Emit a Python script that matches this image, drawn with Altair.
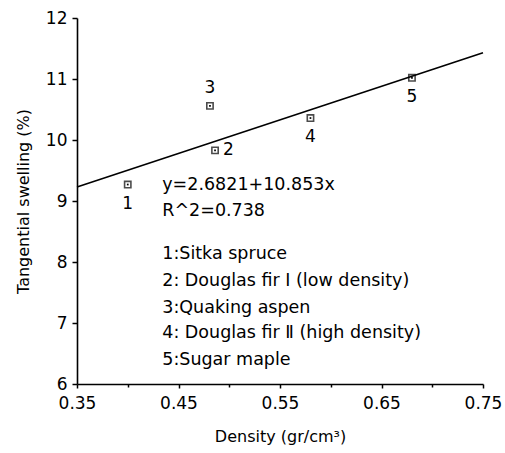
import altair as alt
import pandas as pd

# Data
ids = ["1", "2", "3", "4", "5"]
density = [0.400, 0.486, 0.481, 0.580, 0.680]
swelling = [9.27, 9.83, 10.56, 10.36, 11.02]
label_pos = ["below", "right", "above", "below", "below"]

line_x = [0.35, 0.75]
line_y = [9.23, 11.43]

notes = [
    "y=2.6821+10.853x",
    "R^2=0.738",
    "1:Sitka spruce",
    "2: Douglas fir Ⅰ (low density)",
    "3:Quaking aspen",
    "4: Douglas fir Ⅱ (high density)",
    "5:Sugar maple",
]
notes_x = [0.434] * 7
notes_y = [9.26, 8.83, 8.13, 7.69, 7.25, 6.84, 6.39]

FONT = "DejaVu Sans"
pts = pd.DataFrame({"id": ids, "x": density, "y": swelling, "pos": label_pos})
line_df = pd.DataFrame({"x": line_x, "y": line_y})
notes_df = pd.DataFrame({"t": notes, "x": notes_x, "y": notes_y})

xscale = alt.Scale(domain=[0.35, 0.75], nice=False, zero=False)
yscale = alt.Scale(domain=[6, 12], nice=False, zero=False)

x_vals = [0.35, 0.40, 0.45, 0.50, 0.55, 0.60, 0.65, 0.70, 0.75]
y_vals = [6, 6.5, 7, 7.5, 8, 8.5, 9, 9.5, 10, 10.5, 11, 11.5, 12]

xaxis = alt.Axis(
    values=x_vals,
    labelExpr="round(datum.value*100) % 10 == 5 ? format(datum.value, '.2f') : ''",
    title="Density (gr/cm³)",
    grid=False,
    domainColor="black", domainWidth=1.6,
    tickColor="black", tickWidth=1.5,
    tickSize={"condition": {"test": "round(datum.value*100) % 10 == 5", "value": 4}, "value": 3},
    labelFont=FONT, labelFontSize=17, labelColor="black", labelPadding=7,
    labelFlush=False,
    titleFont=FONT, titleFontSize=16, titleFontWeight="normal", titleColor="black",
    titlePadding=17,
)
yaxis = alt.Axis(
    values=y_vals,
    labelExpr="datum.value % 1 == 0 ? format(datum.value, 'd') : ''",
    title="Tangential swelling (%)",
    grid=False,
    domainColor="black", domainWidth=1.6,
    tickColor="black", tickWidth=1.5,
    tickSize={"condition": {"test": "datum.value % 1 == 0", "value": 5}, "value": 2},
    labelFont=FONT, labelFontSize=17, labelColor="black", labelPadding=5,
    labelFlush=False,
    titleFont=FONT, titleFontSize=16, titleFontWeight="normal", titleColor="black",
    titlePadding=14,
)

line = alt.Chart(line_df).mark_line(color="black", strokeWidth=1.6).encode(
    x=alt.X("x:Q", scale=xscale, axis=xaxis),
    y=alt.Y("y:Q", scale=yscale, axis=yaxis),
)

base = alt.Chart(pts).encode(
    x=alt.X("x:Q", scale=xscale),
    y=alt.Y("y:Q", scale=yscale),
)
squares = base.mark_point(shape="square", filled=False, color="black", size=40, strokeWidth=1.6)
dots = base.mark_point(shape="square", filled=True, color="black", size=3, opacity=1)

lab_kw = dict(font=FONT, fontSize=17, color="black")
lab_below = base.transform_filter("datum.pos == 'below'").mark_text(dy=19, **lab_kw).encode(text="id:N")
lab_above = base.transform_filter("datum.pos == 'above'").mark_text(dy=-18, **lab_kw).encode(text="id:N")
lab_right = base.transform_filter("datum.pos == 'right'").mark_text(dx=8, align="left", **lab_kw).encode(text="id:N")

note_text = alt.Chart(notes_df).mark_text(
    align="left", baseline="middle", font=FONT, fontSize=17.5, color="black"
).encode(
    x=alt.X("x:Q", scale=xscale),
    y=alt.Y("y:Q", scale=yscale),
    text="t:N",
)

chart = alt.layer(line, squares, dots, lab_below, lab_above, lab_right, note_text).properties(
    width=406,
    height=366,
    autosize=alt.AutoSizeParams(type="none"),
    padding={"left": 77, "top": 18, "right": 22, "bottom": 69},
    background="white",
).configure_view(stroke=None)

chart.save("out.html", embed_options={"renderer": "svg", "actions": False})
